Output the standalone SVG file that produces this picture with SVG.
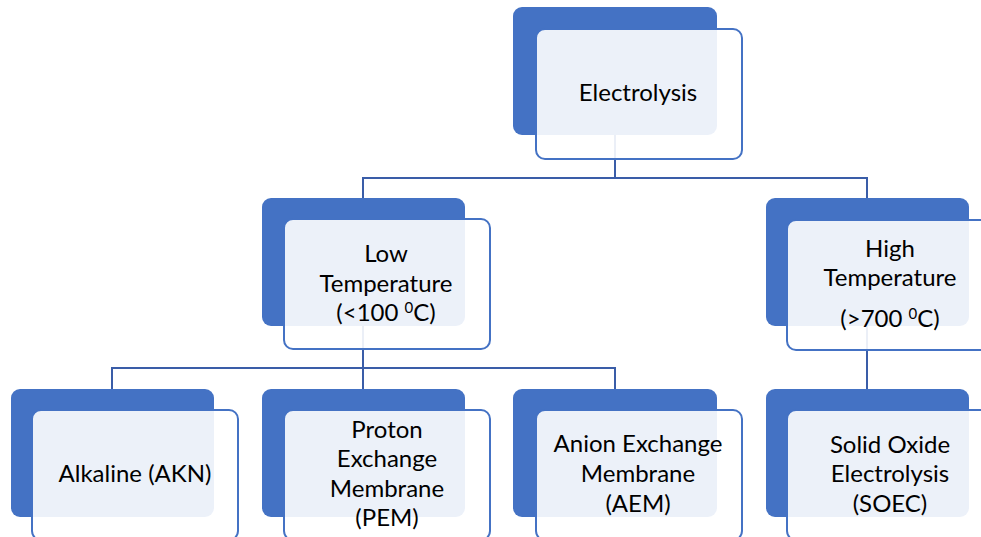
<svg xmlns="http://www.w3.org/2000/svg" width="981" height="537" viewBox="0 0 981 537">
<style>
.back{fill:#4472C4;}
.front{fill:#FFFFFF;fill-opacity:0.9;stroke:#4472C4;stroke-width:2;}
.conn{fill:none;stroke:#3A5DA8;stroke-width:2;}
text{font-family:Lato,"Open Sans","Liberation Sans",sans-serif;font-size:24px;fill:#000;text-anchor:middle;}
.sup{font-size:15px;}
</style>
<rect width="981" height="537" fill="#FFFFFF"/>
<g id="connectors">
<path class="conn" d="M615,135 V178 M363,198 V178 H867 V198"/>
<path class="conn" d="M363,326 V389 M112,389 V368 H615 V389"/>
<path class="conn" d="M867,326 V389"/>
</g>
<g id="n-electrolysis">
<rect class="back" x="513" y="7" width="204" height="128" rx="9"/>
<rect class="front" x="536" y="29" width="206" height="130" rx="9"/>
<text x="638" y="101">Electrolysis</text>
</g>
<g id="n-low">
<rect class="back" x="262" y="198" width="203" height="128" rx="9"/>
<rect class="front" x="284" y="219" width="206" height="130" rx="9"/>
<text x="386" y="262">Low</text>
<text x="386" y="292">Temperature</text>
<text x="386" y="321">(&lt;100 <tspan class="sup" dy="-8">0</tspan><tspan dy="8">C)</tspan></text>
</g>
<g id="n-high">
<rect class="back" x="766" y="198" width="203" height="128" rx="9"/>
<rect class="front" x="787" y="220" width="206" height="130" rx="9"/>
<text x="890" y="257">High</text>
<text x="890" y="286">Temperature</text>
<text x="890" y="327">(&gt;700 <tspan class="sup" dy="-8">0</tspan><tspan dy="8">C)</tspan></text>
</g>
<g id="n-akn">
<rect class="back" x="11" y="389" width="203" height="128" rx="9"/>
<rect class="front" x="32" y="410" width="206" height="130" rx="9"/>
<text x="135" y="482">Alkaline (AKN)</text>
</g>
<g id="n-pem">
<rect class="back" x="262" y="389" width="203" height="128" rx="9"/>
<rect class="front" x="284" y="410" width="206" height="130" rx="9"/>
<text x="387" y="438">Proton</text>
<text x="387" y="467">Exchange</text>
<text x="387" y="497">Membrane</text>
<text x="387" y="526">(PEM)</text>
</g>
<g id="n-aem">
<rect class="back" x="513" y="389" width="204" height="128" rx="9"/>
<rect class="front" x="536" y="410" width="206" height="130" rx="9"/>
<text x="638" y="452">Anion Exchange</text>
<text x="638" y="482">Membrane</text>
<text x="638" y="512">(AEM)</text>
</g>
<g id="n-soec">
<rect class="back" x="766" y="389" width="203" height="128" rx="9"/>
<rect class="front" x="787" y="410" width="206" height="130" rx="9"/>
<text x="890" y="453">Solid Oxide</text>
<text x="890" y="482">Electrolysis</text>
<text x="890" y="512">(SOEC)</text>
</g>
</svg>
